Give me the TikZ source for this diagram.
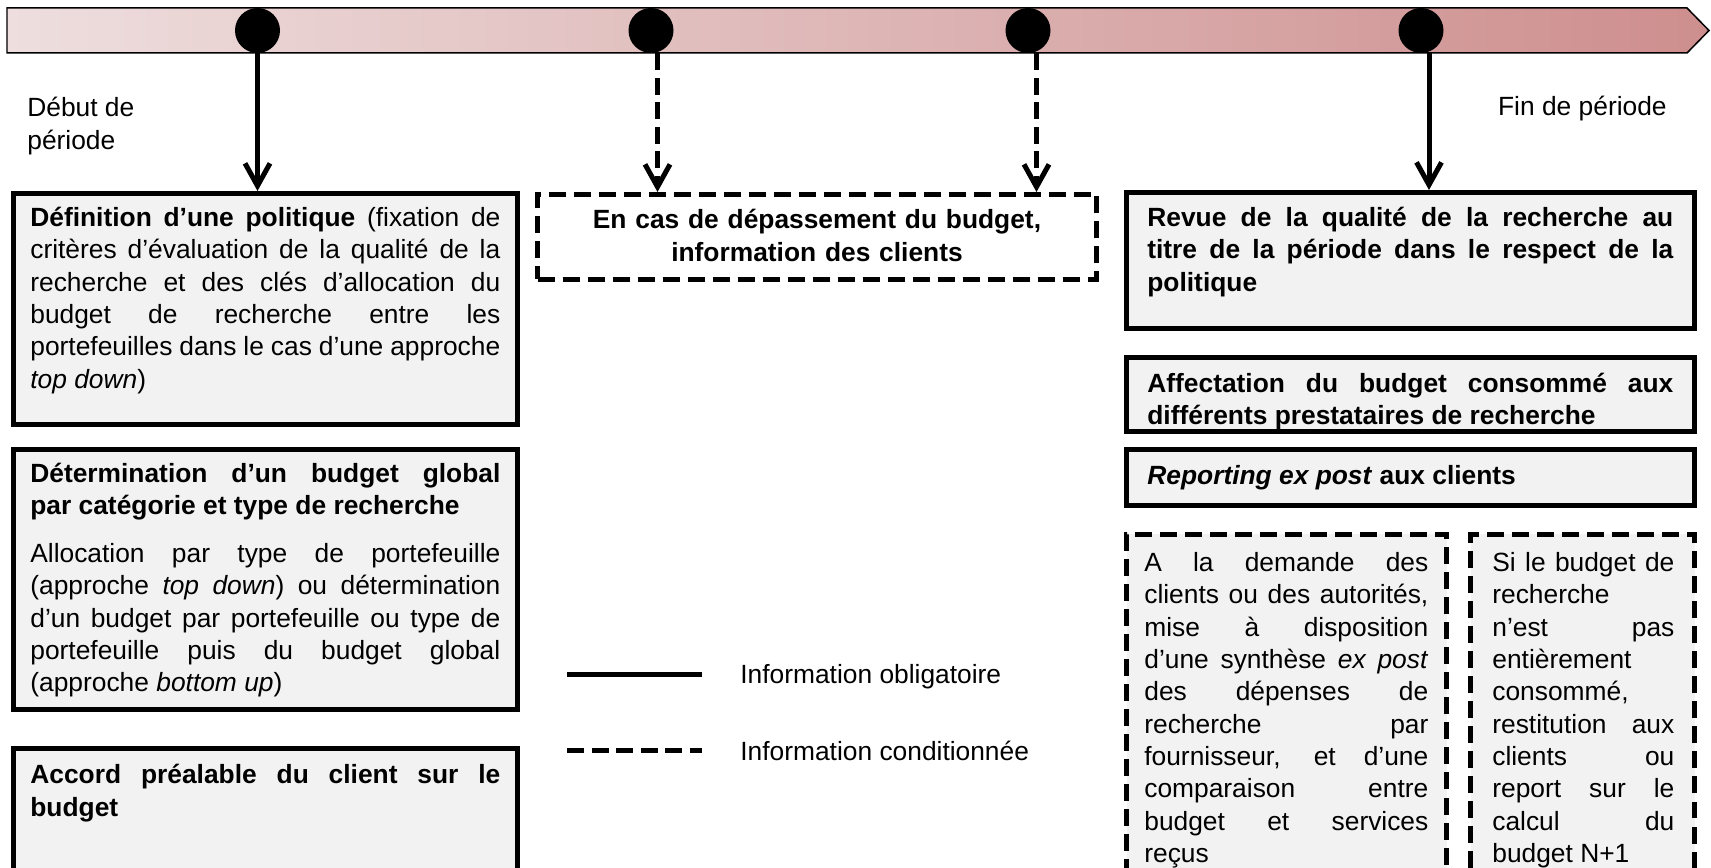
\documentclass[tikz,border=0pt]{standalone}
\usepackage{fontspec}
\setmainfont{Liberation Sans}
\usetikzlibrary{arrows.meta,positioning}
\definecolor{barL}{RGB}{238,222,222}
\definecolor{barR}{RGB}{206,142,142}
\definecolor{fondgris}{RGB}{242,242,242}
\setlength\parindent{0pt}
\tolerance=10000
\hbadness=10000
\hyphenpenalty=10000
\tikzset{
  jalon/.style={circle, fill=black, minimum size=0.9cm, inner sep=0},
  cadre/.style={draw, line width=0.1cm, fill=fondgris, anchor=north west, inner sep=0},
  cadrepointille/.style={cadre, dash pattern=on 0.34cm off 0.16cm},
  texte/.style={anchor=north west, inner sep=0, align=justify,
    font=\fontsize{15pt}{18.4pt}\selectfont, execute at begin node=\strut},
  oblig/.style={line width=0.1cm},
  condit/.style={line width=0.1cm, dash pattern=on 0.34cm off 0.15cm},
  pointe/.style={-{Straight Barb[length=0.45cm,width=0.5cm]}}
}
\begin{document}
\begin{tikzpicture}
\useasboundingbox (0,0) rectangle (34.22,-17.36);
\clip (0,0) rectangle (34.22,-17.36);
\draw[line width=0.03cm, left color=barL, right color=barR] (0.14,-0.16) -- (33.74,-0.16) -- (34.18,-0.61) -- (33.74,-1.06) -- (0.14,-1.06) -- cycle;
\node[jalon] (j1) at (5.15,-0.61) {};
\node[jalon] (j2) at (13.02,-0.61) {};
\node[jalon] (j3) at (20.56,-0.61) {};
\node[jalon] (j4) at (28.42,-0.61) {};
\node[texte, align=left] (debut) at (0.54,-1.94) {Début de\\période};
\node[texte, anchor=north east, align=right] (fin) at (33.34,-1.86) {Fin de période};

\node[cadre, minimum width=10.08cm, minimum height=4.62cm] (def) at (0.22,-3.82) {};
\node[texte, text width=9.4cm] (deftxt) at ([shift={(0.38,-0.25)}]def.north west) {\textbf{Définition d’une politique} (fixation de\linebreak critères d’évaluation de la qualité de la\linebreak recherche et des clés d’allocation du\linebreak budget de recherche entre les\linebreak portefeuilles dans le cas d’une approche\linebreak \textit{top down})};
\node[cadre, minimum width=10.08cm, minimum height=5.2cm] (budget) at (0.22,-8.94) {};
\node[texte, text width=9.4cm] (budgettxt) at ([shift={(0.38,-0.25)}]budget.north west) {\textbf{Détermination d’un budget global\linebreak par catégorie et type de recherche}\par\vspace{0.31cm}Allocation par type de portefeuille\linebreak (approche \textit{top down}) ou détermination\linebreak d’un budget par portefeuille ou type de\linebreak portefeuille puis du budget global\linebreak (approche \textit{bottom up})};
\node[cadre, minimum width=10.08cm, minimum height=3.2cm] (accord) at (0.22,-14.92) {};
\node[texte, text width=9.4cm] (accordtxt) at ([shift={(0.38,-0.3)}]accord.north west) {\textbf{Accord préalable du client sur le\linebreak budget}};

\node[cadrepointille, fill=none, minimum width=11.18cm, minimum height=1.7cm] (depass) at (10.70,-3.84) {};
\node[texte, anchor=north, align=center, text width=11cm] (depasstxt) at ([yshift=-0.28cm]depass.north) {\textbf{En cas de dépassement du budget,\\information des clients}};

\node[cadre, minimum width=11.36cm, minimum height=2.72cm] (revue) at (22.48,-3.80) {};
\node[texte, text width=10.52cm] (revuetxt) at ([shift={(0.46,-0.27)}]revue.north west) {\textbf{Revue de la qualité de la recherche au\linebreak titre de la période dans le respect de la\linebreak politique}};
\node[cadre, minimum width=11.36cm, minimum height=1.48cm] (affect) at (22.48,-7.10) {};
\node[texte, text width=10.52cm] (affecttxt) at ([shift={(0.46,-0.29)}]affect.north west) {\textbf{Affectation du budget consommé aux\linebreak différents prestataires de recherche}};
\node[cadre, minimum width=11.36cm, minimum height=1.12cm] (report) at (22.48,-8.94) {};
\node[texte, text width=10.52cm] (reporttxt) at ([shift={(0.46,-0.29)}]report.north west) {\textbf{\textit{Reporting ex post} aux clients}};
\node[cadrepointille, minimum width=6.4cm, minimum height=7.2cm] (demande) at (22.48,-10.64) {};
\node[texte, text width=5.68cm] (demandetxt) at ([shift={(0.4,-0.33)}]demande.north west) {A la demande des\linebreak clients ou des autorités,\linebreak mise à disposition\linebreak d’une synthèse \textit{ex post}\linebreak des dépenses de\linebreak recherche par\linebreak fournisseur, et d’une\linebreak comparaison entre\linebreak budget et services\linebreak reçus};
\node[cadrepointille, minimum width=4.48cm, minimum height=7.2cm] (restit) at (29.36,-10.64) {};
\node[texte, text width=3.64cm] (restittxt) at ([shift={(0.48,-0.33)}]restit.north west) {Si le budget de\linebreak recherche\linebreak n’est pas\linebreak entièrement\linebreak consommé,\linebreak restitution aux\linebreak clients ou\linebreak report sur le\linebreak calcul du\linebreak budget N+1};

\coordinate (f2) at ([xshift=0.13cm]j2.south);
\coordinate (f3) at ([xshift=0.17cm]j3.south);
\coordinate (f4) at ([xshift=0.16cm]j4.south);
\draw[oblig, pointe] (j1) -- (j1 |- def.north);
\draw[condit, pointe] (f2) -- (f2 |- depass.north);
\draw[condit, pointe] (f3) -- (f3 |- depass.north);
\draw[oblig, pointe] (f4) -- (f4 |- revue.north);

\coordinate (o1) at (11.34,-13.5);
\coordinate (o2) at (14.04,-13.5);
\coordinate (c1) at (11.34,-15.02);
\coordinate (c2) at (14.04,-15.02);
\draw[oblig] (o1) -- (o2);
\draw[condit] (c1) -- (c2);
\node[texte, anchor=west, right=0.76cm of o2, yshift=-0.04cm] (lobl) {Information obligatoire};
\node[texte, anchor=west, right=0.76cm of c2, yshift=-0.07cm] (lcond) {Information conditionnée};
\end{tikzpicture}
\end{document}
